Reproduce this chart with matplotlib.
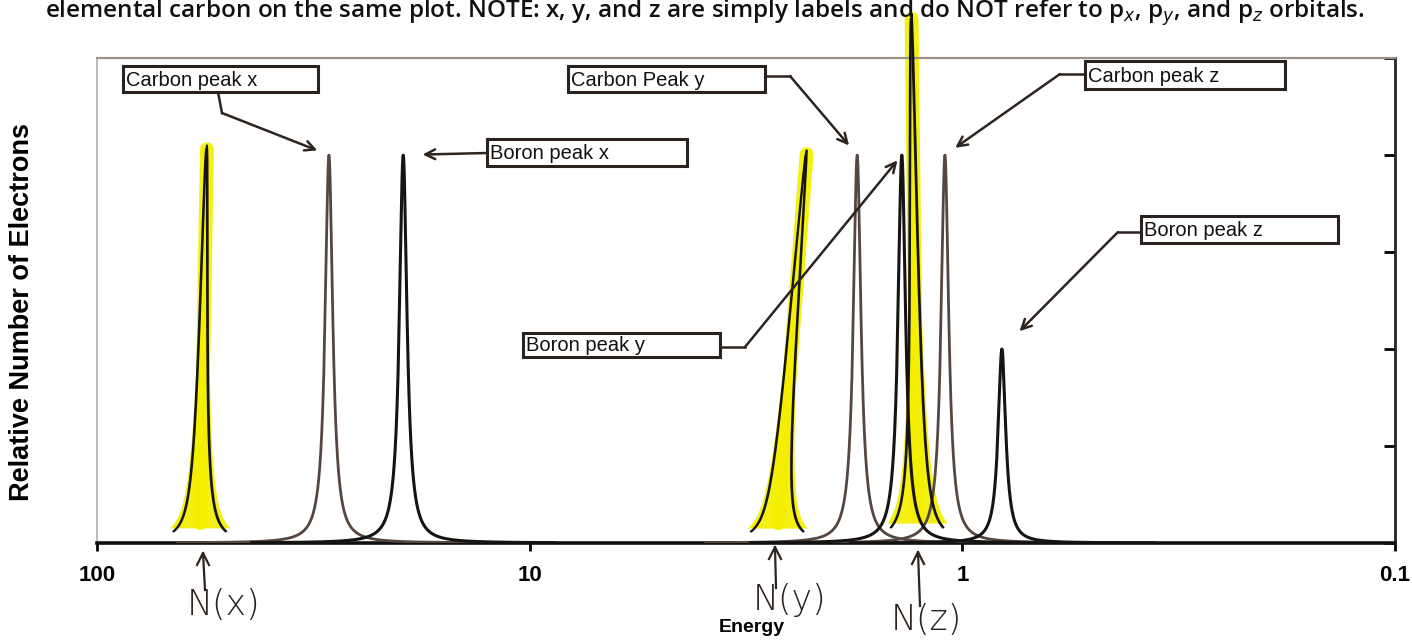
# coding=utf-8
"""
Espectro fotoelectrónico: carbono y boro, con anotaciones a mano (N)
"""

import numpy as np
import matplotlib.pyplot as plt
from matplotlib.patches import Rectangle

# Datos
carbon_labels = ['Carbon peak x', 'Carbon Peak y', 'Carbon peak z']
carbon_energy = [29.1, 1.75, 1.097]
carbon_height = [4.0, 4.0, 4.0]

boron_labels = ['Boron peak x', 'Boron peak y', 'Boron peak z']
boron_energy = [19.6, 1.38, 0.81]
boron_height = [4.0, 4.0, 2.0]

# picos dibujados a mano (resaltador amarillo)
nitrogen_labels = ['N(x)', 'N(y)', 'N(z)']
nitrogen_energy = [55.7, 2.29, 1.31]
nitrogen_height = [4.1, 4.05, 5.46]
nitrogen_lean = [0.016, 0.069, -0.014]   # inclinación del trazo (décadas)

x_ticks = [100, 10, 1, 0.1]
x_ticklabels = ['100', '10', '1', '0.1']

HEADER = ('elemental carbon on the same plot. NOTE: x, y, and z are simply '
          'labels and do NOT refer to p$_x$, p$_y$, and p$_z$ orbitals.')

W, H = 1412, 642
WIDTH = 0.0105          # semiancho lorentziano en décadas
CARBON_C = '#55463f'
BORON_C = '#161412'
INK = '#2e241f'
YELLOW = '#f4ef00'


def fpos(px, py):
    """pixel de la imagen -> fracción de figura"""
    return px / W, 1 - py / H


def peak(e0, h, lean=0.0, span=0.35, n=1500, width=WIDTH):
    lx = np.linspace(np.log10(e0) - span, np.log10(e0) + span, n)
    y = h / (1 + ((lx - np.log10(e0)) / width) ** 2)
    lx = lx + lean * (1 - y / h)
    return 10 ** lx, y


fig = plt.figure(figsize=(W / 100, H / 100), dpi=100)
ax = fig.add_axes([97 / W, 99 / H, 1298 / W, 485 / H])

# picos calculados
for e, h in zip(carbon_energy, carbon_height):
    x, y = peak(e, h)
    ax.plot(x, y, color=CARBON_C, lw=2.0, zorder=3)
for e, h in zip(boron_energy, boron_height):
    x, y = peak(e, h)
    ax.plot(x, y, color=BORON_C, lw=2.2, zorder=3)

# picos a mano con resaltador
for e, h, lean in zip(nitrogen_energy, nitrogen_height, nitrogen_lean):
    xy, yy = peak(e, h, lean, span=0.07, width=WIDTH * 1.3)
    ax.fill(xy, yy, color=YELLOW, alpha=0.92, lw=0, zorder=2,
            clip_on=False)
    # trazo central del resaltador
    ax.plot([e * 10 ** (lean * 0.95), e], [0.05 * h, 0.99 * h],
            color=YELLOW, lw=10, alpha=0.92, zorder=2,
            solid_capstyle='round', clip_on=False)
    for k in range(2):
        xs, ys = peak(e * 10 ** (0.002 * k), h * (1 - 0.01 * k), lean,
                      span=0.06)
        ax.plot(xs, ys, color=BORON_C, lw=1.3, zorder=4, clip_on=False)

ax.set_xscale('log')
ax.set_xlim(100, 0.1)
ax.set_ylim(0, 5)
ax.set_xticks(x_ticks)
ax.set_xticklabels(x_ticklabels)
ax.minorticks_off()
ax.tick_params(axis='x', direction='out', length=6, width=2, pad=10,
               labelsize=16)
for t in ax.get_xticklabels():
    t.set_fontweight('bold')
    t.set_family('Liberation Sans')
ax.yaxis.tick_right()
ax.set_yticks(range(6))
ax.tick_params(axis='y', direction='in', length=8, width=2,
               labelright=False)

ax.spines['left'].set_color('#b7aea6')
ax.spines['left'].set_linewidth(1.2)
ax.spines['top'].set_color('#9c928a')
ax.spines['top'].set_linewidth(1.6)
ax.spines['right'].set_color('#2a2420')
ax.spines['right'].set_linewidth(2)
ax.spines['bottom'].set_color('#111111')
ax.spines['bottom'].set_linewidth(2.6)

# cajas con etiquetas: (caja x0, y0, x1, y1), codo, pico
boxes = [
    (carbon_labels[0], (123, 66, 318, 92), [(218, 92), (222, 113)],
     (carbon_energy[0], carbon_height[0])),
    (boron_labels[0], (487, 139, 687, 166), [(487, 153)],
     (boron_energy[0], boron_height[0])),
    (carbon_labels[1], (568, 66, 765, 92), [(765, 76), (790, 76)],
     (carbon_energy[1], carbon_height[1])),
    (boron_labels[1], (523, 333, 720, 357), [(720, 347), (745, 347)],
     (boron_energy[1], boron_height[1])),
    (carbon_labels[2], (1085, 61, 1285, 89), [(1085, 74), (1060, 74)],
     (carbon_energy[2], carbon_height[2])),
    (boron_labels[2], (1141, 216, 1338, 243), [(1141, 232), (1118, 232)],
     (boron_energy[2], boron_height[2])),
]
shrinks = [9, 14, 9, 5, 9, 18]

for (label, (x0, y0, x1, y1), elbow, tip), shr in zip(boxes, shrinks):
    fx0, fy1 = fpos(x0, y1)
    fx1, fy0 = fpos(x1, y0)
    fig.patches.append(Rectangle((fx0, fy1), fx1 - fx0, fy0 - fy1,
                                 transform=fig.transFigure, fill=True,
                                 facecolor='white', edgecolor='#2a221e',
                                 lw=2.2, zorder=6))
    tx, ty = fpos(x0 + 3, (y0 + y1) / 2 + 1)
    fig.text(tx, ty, label, ha='left', va='center', fontsize=14.5,
             family='Liberation Sans', color='#111', zorder=7)
    if len(elbow) > 1:
        pts = [fpos(*p) for p in elbow]
        fig.add_artist(plt.Line2D([p[0] for p in pts], [p[1] for p in pts],
                                  transform=fig.transFigure, color=INK,
                                  lw=1.8))
    start = fpos(*elbow[-1])
    ax.annotate('', xy=tip, xycoords='data', xytext=start,
                textcoords='figure fraction',
                arrowprops=dict(arrowstyle='->,head_length=0.7,head_width=0.35',
                                color=INK, lw=1.8, shrinkA=0, shrinkB=shr),
                annotation_clip=False, zorder=8)

# notas a mano bajo el eje
hand = [((205, 590), (203, 553), (224, 605)),
        ((776, 588), (775, 547), (790, 600)),
        ((920, 606), (918, 552), (926, 620))]
for lab, e, (a, b, t) in zip(nitrogen_labels, nitrogen_energy, hand):
    fa, fb = fpos(*a), fpos(*b)
    fig.add_artist(plt.Line2D([fa[0], fb[0]], [fa[1], fb[1]],
                              transform=fig.transFigure, color=INK, lw=1.6))
    fig.add_artist(plt.Line2D([fb[0] - 6 / W, fb[0], fb[0] + 6 / W],
                              [fb[1] - 12 / H, fb[1], fb[1] - 12 / H],
                              transform=fig.transFigure, color=INK, lw=1.6))
    tx, ty = fpos(*t)
    fig.text(tx, ty, lab, ha='center', va='center', fontsize=25,
             family='DejaVu Sans', fontweight='light', color=INK)

fig.text(*fpos(752, 628), 'Energy', ha='center', va='center', fontsize=14,
         fontweight='bold', family='Liberation Sans')
fig.text(*fpos(22, 312), 'Relative Number of Electrons', ha='center',
         va='center', rotation=90, fontsize=19.5, fontweight='bold',
         family='Liberation Sans')
fig.text(*fpos(45, 18), HEADER, ha='left', va='baseline', fontsize=17.5,
         family='Open Sans', fontweight='semibold', color='#111')

fig.savefig('out.png', dpi=100, facecolor='white')
